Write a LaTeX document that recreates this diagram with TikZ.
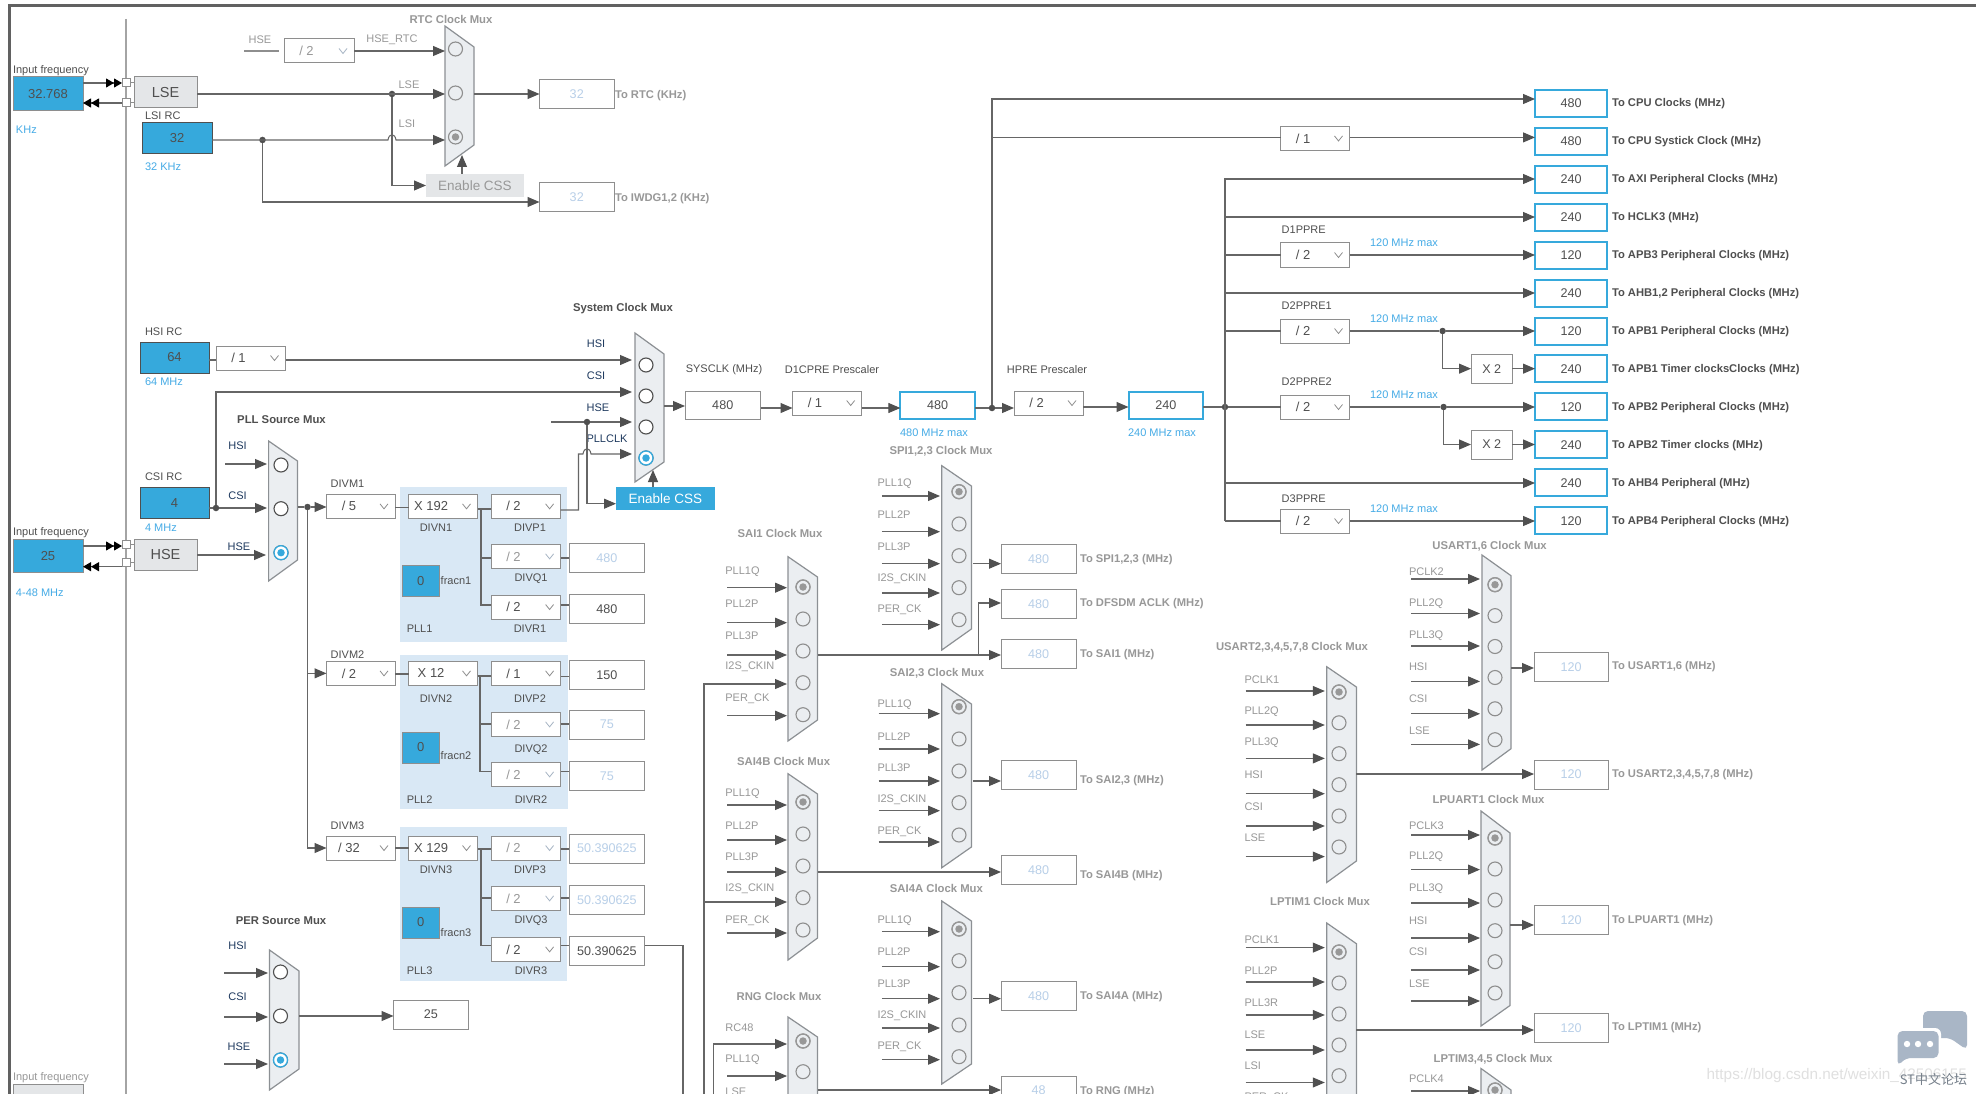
\documentclass[tikz,border=0pt]{standalone}
\usepackage{fontspec}
\setmainfont{Liberation Sans}
\newfontfamily\cjkf{Noto Sans CJK SC}
\usetikzlibrary{arrows.meta,calc}
\definecolor{blueF}{HTML}{36A9DC}
\definecolor{blueT}{HTML}{45ABE6}
\definecolor{ink}{HTML}{4F4F4F}
\definecolor{wire}{HTML}{666666}
\definecolor{tipc}{HTML}{505050}
\definecolor{grayT}{HTML}{989898}
\definecolor{frameC}{HTML}{8E8E8E}
\definecolor{muxF}{HTML}{EBEEF1}
\definecolor{muxB}{HTML}{8C9094}
\definecolor{offF}{HTML}{E4E6E8}
\definecolor{offV}{HTML}{B8CFE8}
\definecolor{pllF}{HTML}{D9E8F5}
\definecolor{navy}{HTML}{1F3A5F}
\definecolor{wmB}{HTML}{A9B6C6}
\tikzset{
  every node/.append style={inner sep=0pt,outer sep=0pt},
  wr/.style={draw=wire,line width=1.05pt},
  arr/.style={wr,-{Triangle[length=12pt,width=10pt,color=tipc]}},
  jdot/.style={circle,fill=ink,minimum size=6.5pt},
  t11/.style={font=\fontsize{11}{13}\selectfont,yshift=-1.3pt},
  lab/.style={t11,text=ink},
  labg/.style={t11,text=grayT},
  labn/.style={t11,text=navy},
  labb/.style={t11,text=blueT},
  ttl/.style={font=\fontsize{11.3}{13}\bfseries\selectfont,text=ink,yshift=-1.3pt},
  ttlg/.style={font=\fontsize{11.3}{13}\bfseries\selectfont,text=grayT,yshift=-1.3pt},
  tolab/.style={font=\fontsize{11.2}{13}\bfseries\selectfont,text=ink,anchor=west,yshift=-1.8pt},
  tolabg/.style={font=\fontsize{11.2}{13}\bfseries\selectfont,text=grayT,anchor=west,yshift=-1.8pt},
  valbox/.style={draw=frameC,line width=1pt,fill=white,font=\fontsize{12.6}{14}\selectfont,text=ink},
  valoff/.style={valbox,text=offV},
  outbox/.style={draw=blueF,line width=2pt,fill=white,font=\fontsize{12.6}{14}\selectfont,text=ink},
  bluebox/.style={draw=ink,line width=1pt,fill=blueF,font=\fontsize{13}{15}\selectfont,text=ink},
  blueflat/.style={draw=frameC,line width=1pt,fill=blueF,font=\fontsize{13}{15}\selectfont,text=ink},
  oscbox/.style={draw=frameC,line width=1pt,fill=offF,font=\fontsize{14.5}{16}\selectfont,text=ink},
  cssoff/.style={fill=offF,font=\fontsize{13.5}{15}\selectfont,text=grayT},
  csson/.style={fill=blueF,font=\fontsize{13.5}{15}\selectfont,text=white},
  ddframe/.style={draw=frameC,line width=1pt,fill=white},
  ddtext/.style={font=\fontsize{13}{15}\selectfont},
  pin/.style={draw=frameC,line width=1pt,fill=white,minimum width=8pt,minimum height=8pt},
  muxshape/.style={draw=muxB,line width=1.2pt,fill=muxF},
}
% \rbx{style}{name}{x1}{y1}{x2}{y2}{text}
\newcommand\rbx[7]{\node[#1,minimum width={(#5-#3)*1pt},minimum height={(#6-#4)*1pt}] (#2) at ({(#3+#5)/2},{(#4+#6)/2}) {#7};}
% \ddb{text colour}{chevron colour}{name}{x1}{y1}{x2}{y2}{text}
\newcommand\ddb[8]{\rbx{ddframe}{#3}{#4}{#5}{#6}{#7}{}%
  \node[ddtext,text=#1] (#3-t) at ([xshift=22.5pt]#3.west) {#8};%
  \draw[#2,line width=.8pt] ([xshift=-15pt,yshift=2.5pt]#3.east) -- ++(4,5) -- ++(4,-5);}
\newcommand\ddon[6]{\ddb{ink}{frameC}{#1}{#2}{#3}{#4}{#5}{#6}}
\newcommand\ddoff[6]{\ddb{grayT}{offV!60!frameC}{#1}{#2}{#3}{#4}{#5}{#6}}
% \muxb{name}{x1}{x2}{ytop}{yrtop}{yrbot}{ybot}
\newcommand\muxb[7]{\draw[muxshape] (#2,#4) -- (#3,#5) -- (#3,#6) -- (#2,#7) -- cycle;%
  \coordinate (#1-w) at (#2,#5);\coordinate (#1-e) at (#3,#5);}
\newcommand\setmux[4]{\def\mring{#1}\def\mdot{#2}\def\mlab{#3}\def\mfill{#4}}
% \ports{name}{labelx}{circlex}{srcx}{tipx}{selected}{Label/labely/circley/arrowy,...}
\newcommand\ports[7]{\foreach \La/\Ly/\Cy/\Ay [count=\i] in {#7}{%
  \node[t11,text=\mlab,anchor=west] (#1-l\i) at (#2,\Ly) {\La};
  \node[circle,draw=\mring,line width=1.1pt,fill=\mfill,minimum size=14pt] (#1-c\i) at (#3,\Cy) {};
  \ifnum\i=#6 \node[circle,fill=\mdot,minimum size=7.5pt] (#1-d\i) at (#3,\Cy) {};
    \draw[\mdot,line width=1.3pt] (#1-c\i) circle (7pt);\fi
  \coordinate (#1-s\i) at (#4,\Ay);\coordinate (#1-t\i) at (#5,\Ay);
  \draw[arr] (#1-s\i) -- (#1-t\i);}}
\begin{document}
\begin{tikzpicture}[x=1pt,y=-1pt]
\clip (0,0) rectangle (1976,1094);
\fill[white] (0,0) rectangle (1976,1094);
% frame
\coordinate (fa) at (9,1094);\coordinate (fb) at (9,6);\coordinate (fc) at (1976,6);
\draw[ink!90!white,line width=3pt] (fa) -- (fb) -- (fc);
\coordinate (va) at (126,19);\coordinate (vb) at (126,1094);
\draw[frameC!80!white,line width=1.5pt] (va) -- (vb);
% ---------- LSE / LSI
\node[lab,anchor=west] (ifl1) at (13,69.5) {Input frequency};
\rbx{blueflat}{f1}{13}{77}{83}{111}{32.768}
\node[labb,anchor=west] (khz) at (16,128) {KHz};
\rbx{pin}{p1}{122}{79}{130}{87}{}
\rbx{pin}{p2}{122}{99}{130}{107}{}
\rbx{oscbox}{lse}{134}{77}{197}{108}{LSE}
\draw[wr,-{Triangle[length=8pt,width=9pt,color=black]Triangle[length=8pt,width=9pt,color=black]}] (f1.east |- 0,83) -- (p1.west |- 0,83);
\draw[wr,-{Triangle[length=8pt,width=9pt,color=black]Triangle[length=8pt,width=9pt,color=black]}] (p2.west |- 0,103) -- (f1.east |- 0,103);
\draw[frameC,line width=1pt] (p1.east) -- (lse.west |- p1.east);
\draw[frameC,line width=1pt] (p2.east) -- (lse.west |- p2.east);
\node[lab,anchor=west] (lsil) at (145,114) {LSI RC};
\rbx{bluebox}{lsi}{142}{123}{212}{154}{32}
\node[labb,anchor=west] (lsik) at (145,165) {32 KHz};
\node[ttlg] (rtct) at (451,18) {RTC Clock Mux};
\muxb{rtc}{445}{474}{26}{47}{145}{166}
\setmux{frameC}{grayT}{grayT}{muxF}
\foreach \n/\y in {1/49,2/93,3/137}{\node[circle,draw=frameC,line width=1.1pt,fill=muxF,minimum size=14pt] (rtc-c\n) at (455.5,\y) {};}
\node[circle,fill=grayT,minimum size=7.5pt] (rtc-d) at (rtc-c3) {};
\node[labg] (hsel) at (260,38) {HSE};
\coordinate (hses) at (244,51);\coordinate (hsee) at (279,51);
\draw[frameC,line width=1.2pt] (hses) -- (hsee);
\ddoff{d2}{284}{39}{354}{63}{/ 2}
\node[labg] (hrtc) at (392,38) {HSE\_RTC};
\draw[arr] (d2.east |- 0,51) -- (rtc-w |- 0,51);
\node[labg] (lsel) at (409,83) {LSE};
\node[labg] (lsil2) at (407,122) {LSI};
\node[jdot] (j1) at (392,94) {};
\node[jdot] (j2) at (262.5,140) {};
\rbx{cssoff}{css1}{426}{174}{524}{197}{Enable CSS}
\rbx{valoff}{v32a}{539.5}{80}{614}{109}{32}
\rbx{valoff}{v32b}{539.5}{183}{614}{212}{32}
\node[tolabg] (tortc) at (615,94) {To RTC (KHz)};
\node[tolabg] (toiw) at (615,197) {To IWDG1,2 (KHz)};
\draw[arr] (lse.east |- 0,94) -- (rtc-w |- 0,94);
\draw[arr] (rtc-e |- 0,94) -- (v32a.west |- 0,94);
\coordinate (h1a) at (388,140);\coordinate (h1b) at (396,140);
\draw[arr] (lsi.east |- 0,140) -- (h1a) .. controls (389,133) and (395,133) .. (h1b) -- (rtc-w |- 0,140);
\draw[arr] (j1) |- (css1.west);
\draw[arr] (j2) |- (v32b.west |- 0,202);
\draw[arr] (css1.north -| 462,0) -- (462,155);
% ---------- HSI / CSI / HSE
\node[lab,anchor=west] (hsil) at (145,330) {HSI RC};
\rbx{bluebox}{hsi}{140}{342}{209}{373}{64}
\node[labb,anchor=west] (hsim) at (145,380) {64 MHz};
\ddon{d3}{216}{346}{285.5}{370}{/ 1}
\node[ttl] (syst) at (623,307) {System Clock Mux};
\node[labn] (shsi) at (596,342) {HSI};
\node[labn] (scsi) at (596,374) {CSI};
\node[labn] (shse) at (598,406) {HSE};
\node[labn] (spll) at (607,437) {PLLCLK};
\muxb{sys}{635}{664}{333}{354}{462}{482}
\foreach \n/\y in {1/365,2/396,3/427,4/458}{\node[circle,draw=ink,line width=1.1pt,fill=white,minimum size=14pt] (sys-c\n) at (646,\y) {};}
\draw[blueF,line width=1.3pt,fill=white] (sys-c4) circle (7pt);
\node[circle,fill=blueF,minimum size=7.5pt] (sys-d) at (sys-c4) {};
\rbx{csson}{css2}{616}{487}{714.6}{510}{Enable CSS}
\draw[wr] (hsi.east |- 0,360) -- (d3.west |- 0,360);
\coordinate (sysin) at (632,360);
\draw[arr] (d3.east |- 0,360) -- (sysin);
\draw[arr] (css2.north -| 653,0) -- (653,470);
% PLL source mux
\node[lab,anchor=west] (csil) at (145,475) {CSI RC};
\rbx{bluebox}{csi}{140}{487}{209}{518.7}{4}
\node[labb,anchor=west] (csim) at (145,526) {4 MHz};
\node[lab,anchor=west] (ifl2) at (13,531.7) {Input frequency};
\rbx{blueflat}{f2}{13}{539}{83}{572.7}{25}
\node[labb,anchor=west] (f2m) at (16,591) {4-48 MHz};
\rbx{pin}{p3}{122}{540}{130}{548}{}
\rbx{pin}{p4}{122}{558.7}{130}{566.7}{}
\rbx{oscbox}{hse}{134}{539}{197}{570.7}{HSE}
\draw[wr,-{Triangle[length=8pt,width=9pt,color=black]Triangle[length=8pt,width=9pt,color=black]}] (f2.east |- 0,546) -- (p3.west |- 0,546);
\draw[wr,-{Triangle[length=8pt,width=9pt,color=black]Triangle[length=8pt,width=9pt,color=black]}] (p4.west |- 0,566.7) -- (f2.east |- 0,566.7);
\draw[frameC,line width=1pt] (p3.east) -- (hse.west |- p3.east);
\draw[frameC,line width=1pt] (p4.east) -- (hse.west |- p4.east);
\node[ttl] (pllt) at (281.5,418) {PLL Source Mux};
\node[labn] (phsi) at (237.5,444) {HSI};
\node[labn] (pcsi) at (237.5,494) {CSI};
\node[labn] (phse) at (239,545) {HSE};
\muxb{psrc}{268.6}{297.5}{441}{461}{560}{581}
\foreach \n/\y in {1/465,2/508.7,3/552.7}{\node[circle,draw=ink,line width=1.1pt,fill=white,minimum size=14pt] (psrc-c\n) at (281,\y) {};}
\draw[blueF,line width=1.3pt,fill=white] (psrc-c3) circle (7pt);
\node[circle,fill=blueF,minimum size=7.5pt] (psrc-d) at (psrc-c3) {};
\coordinate (phs) at (225,464);\coordinate (pht) at (267,464);
\draw[arr] (phs) -- (pht);
\node[jdot] (j3) at (216,508) {};
\draw[wr] (csi.east |- j3) -- (j3);
\draw[arr] (j3) -- (267,508);
\coordinate (cs1) at (216,392);\coordinate (cs2) at (632,392);
\draw[arr] (j3) -- (cs1) -- (cs2);
\draw[arr] (hse.east |- 0,555) -- (266,555);
% PLL panels
\rbx{fill=pllF}{pll1}{400}{487}{567}{641.7}{}
\rbx{fill=pllF}{pll2}{400}{654.7}{568}{809}{}
\rbx{fill=pllF}{pll3}{400}{826.7}{567}{981}{}
\node[jdot] (j4) at (307.5,507) {};
\foreach \n/\y/\ya/\yb/\mul/\yl/\ex in {1/482/494.7/518/{/ 5}/526/1,2/653/661.7/685/{/ 2}/697/1,3/824/836/860/{/ 32}/868/1}{
  \node[lab] (divm\n) at (347.5,\y) {DIVM\n};
  \ddon{dm\n}{326.5}{\ya}{395}{\yb}{\mul}
  \node[lab] (divnl\n) at (436,\yl) {DIVN\n};
}
\ddon{dn1}{408.6}{494.7}{477.5}{518}{X 192}
\ddon{dn2}{408.6}{661.7}{477.5}{685}{X 12}
\ddon{dn3}{408.6}{836}{477.5}{860}{X 129}
\draw[wr] (psrc-e |- j4) -- (j4);
\draw[arr] (j4) -- (dm1.west |- j4);
\draw[arr] (j4) |- (dm2.west);
\draw[arr] (j4) |- (dm3.west);
% PLL dividers
\ddon{dp1}{491}{494.7}{560.6}{518}{/ 2}
\ddoff{dq1}{491}{544.7}{560.6}{568}{/ 2}
\ddon{dr1}{491}{595}{560.6}{619}{/ 2}
\ddon{dp2}{491}{661.7}{560.6}{685}{/ 1}
\ddoff{dq2}{491}{712.7}{560.6}{736}{/ 2}
\ddoff{dr2}{491}{762.7}{560.6}{786}{/ 2}
\ddoff{dp3}{491}{836}{560.6}{860}{/ 2}
\ddoff{dq3}{491}{886.7}{560.6}{910}{/ 2}
\ddon{dr3}{491}{937.7}{560.6}{961}{/ 2}
\foreach \nm/\x/\y in {DIVP1/530/526,DIVQ1/531/577,DIVR1/530/627,DIVP2/530/697,DIVQ2/531/748,DIVR2/531/798,DIVP3/530/868,DIVQ3/531/919,DIVR3/531/969}{\node[lab] (l\nm) at (\x,\y) {\nm};}
\foreach \n/\y in {1/627,2/798,3/969}{\node[lab] (lpll\n) at (419.6,\y) {PLL\n};}
\foreach \n/\ya/\yb/\yc in {1/565/596.7/579,2/732/763/754,3/907/938/931}{
 \rbx{blueflat}{fr\n}{402}{\ya}{439.4}{\yb}{0}
 \node[lab] (frl\n) at (456,\yc) {fracn\n};}
\rbx{valoff}{vq1}{569}{543.7}{644.6}{572.7}{480}
\rbx{valbox}{vr1}{569}{594.7}{644.6}{623}{480}
\rbx{valbox}{vp2}{569}{660.7}{644.6}{689}{150}
\rbx{valoff}{vq2}{569}{710}{644.6}{739}{75}
\rbx{valoff}{vr2}{569}{761.7}{644.6}{790}{75}
\rbx{valoff}{vp3}{569}{834}{644.6}{863}{50.390625}
\rbx{valoff}{vq3}{569}{885.7}{644.6}{914}{50.390625}
\rbx{valbox}{vr3}{569}{936.7}{644.6}{965}{50.390625}
% stubs
\draw[wr] (dm1.east |- 0,507.7) -- (dn1.west |- 0,507.7);
\draw[wr] (dm2.east |- 0,674) -- (dn2.west |- 0,674);
\draw[wr] (dm3.east |- 0,848) -- (dn3.west |- 0,848);
\draw[wr] (dn1.east |- 0,509) -- (dp1.west |- 0,509);
\coordinate (b1a) at (481,509);\coordinate (b1b) at (481,605);
\draw[wr] (b1a) -- (b1b) -- (dr1.west |- b1b);
\draw[wr] (481,558) -- (dq1.west |- 0,558);
\draw[wr] (dq1.east |- 0,558) -- (vq1.west |- 0,558);
\draw[wr] (dr1.east |- 0,605) -- (vr1.west |- 0,605);
\draw[wr] (dn2.east |- 0,676) -- (dp2.west |- 0,676);
\coordinate (b2a) at (480,676);\coordinate (b2b) at (480,771.7);
\draw[wr] (b2a) -- (b2b) -- (dr2.west |- b2b);
\draw[wr] (480,724) -- (dq2.west |- 0,724);
\draw[wr] (dp2.east |- 0,676.7) -- (vp2.west |- 0,676.7);
\draw[wr] (dq2.east |- 0,724) -- (vq2.west |- 0,724);
\draw[wr] (dr2.east |- 0,771.7) -- (vr2.west |- 0,771.7);
\draw[wr] (dn3.east |- 0,849) -- (dp3.west |- 0,849);
\coordinate (b3a) at (481,849);\coordinate (b3b) at (481,945.7);
\draw[wr] (b3a) -- (b3b) -- (dr3.west |- b3b);
\draw[wr] (481,898) -- (dq3.west |- 0,898);
\draw[wr] (dp3.east |- 0,849) -- (vp3.west |- 0,849);
\draw[wr] (dq3.east |- 0,898) -- (vq3.west |- 0,898);
\draw[wr] (dr3.east |- 0,945.7) -- (vr3.west |- 0,945.7);
% rest of system mux inputs
\coordinate (hs1) at (551,422);\node[jdot] (j5) at (587,422) {};
\draw[wr] (hs1) -- (j5);
\draw[arr] (j5) -- (632,422);
\draw[arr] (j5) |- (css2.west |- 0,503.7);
\coordinate (pl1) at (578.5,510);\coordinate (pl2) at (578.5,454);\coordinate (pl3) at (583,454);\coordinate (pl4) at (591,454);
\draw[arr] (dp1.east |- pl1) -- (pl1) -- (pl2) -- (pl3) .. controls (584,447) and (590,447) .. (pl4) -- (632,454);
% SYSCLK chain
\node[lab] (sysl) at (724,368) {SYSCLK (MHz)};
\rbx{valbox}{sclk}{685}{391}{760.5}{419}{480}
\node[lab] (d1cl) at (832,368) {D1CPRE Prescaler};
\ddon{d1c}{792.5}{391}{861.7}{415}{/ 1}
\rbx{outbox}{b480}{900.4}{391.5}{975}{418.5}{480}
\node[labb] (m480) at (934,431) {480 MHz max};
\node[jdot] (j6) at (992,408) {};
\node[lab] (hprl) at (1047,368) {HPRE Prescaler};
\ddon{hpr}{1014}{391}{1083}{415}{/ 2}
\rbx{outbox}{b240}{1128.5}{391.5}{1203}{418.5}{240}
\node[labb] (m240) at (1162,431) {240 MHz max};
\node[jdot] (j7) at (1225,407) {};
\draw[arr] (sys-e |- 0,406) -- (sclk.west |- 0,406);
\draw[arr] (sclk.east |- 0,408) -- (d1c.west |- 0,408);
\draw[arr] (d1c.east |- 0,408) -- (b480.west |- 0,408);
\draw[wr] (b480.east |- j6) -- (j6);
\draw[arr] (j6) -- (hpr.west |- j6);
\draw[arr] (hpr.east |- 0,407) -- (b240.west |- 0,407);
\draw[wr] (b240.east |- j7) -- (j7);
% right column
\foreach \n/\v/\t [count=\k from 0] in {cpu/480/To CPU Clocks (MHz),sys/480/To CPU Systick Clock (MHz),axi/240/To AXI Peripheral Clocks (MHz),hcl/240/To HCLK3 (MHz),ap3/120/To APB3 Peripheral Clocks (MHz),ahb/240/{To AHB1,2 Peripheral Clocks (MHz)},ap1/120/To APB1 Peripheral Clocks (MHz),tm1/240/To APB1 Timer clocksClocks (MHz),ap2/120/To APB2 Peripheral Clocks (MHz),tm2/240/To APB2 Timer clocks (MHz),ah4/240/To AHB4 Peripheral (MHz),ap4/120/To APB4 Peripheral Clocks (MHz)}{
  \pgfmathsetmacro\cy{103.3+37.95*\k}
  \node[outbox,minimum width=72pt,minimum height=27pt] (o\n) at (1571,\cy) {\v};
  \node[tolab] (ol\n) at (1612,\cy-1) {\t};
}
\draw[arr] (j6) -- (992,99) -- (ocpu.west |- 0,99);
\ddon{sy1}{1280.7}{126.4}{1349.5}{150.5}{/ 1}
\draw[wr] (992,137.4) -- (sy1.west |- 0,137.4);
\draw[arr] (sy1.east |- 0,137.4) -- (osys.west |- 0,137.4);
\ddon{dd1}{1280.7}{243}{1349.5}{267}{/ 2}
\ddon{dd2}{1280.7}{319}{1349.5}{343}{/ 2}
\ddon{dd3}{1280.7}{395}{1349.5}{419}{/ 2}
\ddon{dd4}{1280.7}{509}{1349.5}{533}{/ 2}
\foreach \nm/\y in {D1PPRE/228,D2PPRE1/304,D2PPRE2/380,D3PPRE/497}{\node[lab,anchor=west] (l\nm) at (1281.7,\y) {\nm};}
\foreach \y [count=\k] in {241,317,393,507}{\node[labb] (mx\k) at (1404,\y) {120 MHz max};}
\coordinate (tr1) at (1225,179);\coordinate (tr2) at (1225,521);
\draw[arr] (tr2) -- (tr1) -- (oaxi.west |- tr1);
\draw[arr] (j7 |- 0,217) -- (ohcl.west |- 0,217);
\draw[arr] (j7 |- 0,293) -- (oahb.west |- 0,293);
\draw[arr] (j7 |- 0,483) -- (oah4.west |- 0,483);
\draw[wr] (j7 |- 0,255) -- (dd1.west |- 0,255);
\draw[wr] (j7 |- 0,331) -- (dd2.west |- 0,331);
\draw[wr] (j7) -- (dd3.west |- j7);
\draw[wr] (tr2) -- (dd4.west |- tr2);
\draw[arr] (dd1.east |- 0,255) -- (oap3.west |- 0,255);
\draw[arr] (dd4.east |- 0,521) -- (oap4.west |- 0,521);
\node[jdot] (j8) at (1442.6,331) {};
\node[jdot] (j9) at (1443.6,407) {};
\rbx{valbox}{x1}{1471}{354}{1512.4}{383.3}{X 2}
\rbx{valbox}{x2}{1471}{430}{1512.4}{459}{X 2}
\draw[wr] (dd2.east |- j8) -- (j8);
\draw[arr] (j8) -- (oap1.west |- j8);
\draw[wr] (dd3.east |- j9) -- (j9);
\draw[arr] (j9) -- (oap2.west |- j9);
\draw[arr] (j8) |- (x1.west);
\draw[arr] (j9) |- (x2.west);
\draw[arr] (x1.east) -- (otm1.west |- x1.east);
\draw[arr] (x2.east) -- (otm2.west |- x2.east);
% ---------- per source
\node[ttl] (pert) at (281,919) {PER Source Mux};
\node[labn] (qhsi) at (237.5,944) {HSI};
\node[labn] (qcsi) at (237.5,995) {CSI};
\node[labn] (qhse) at (239,1045) {HSE};
\muxb{per}{269.5}{299}{950}{971}{1069}{1090}
\foreach \n/\y in {1/972,2/1016,3/1060}{\node[circle,draw=ink,line width=1.1pt,fill=white,minimum size=14pt] (per-c\n) at (280.5,\y) {};}
\draw[blueF,line width=1.3pt,fill=white] (per-c3) circle (7pt);
\node[circle,fill=blueF,minimum size=7.5pt] (per-d) at (per-c3) {};
\foreach \n/\y in {1/973,2/1017,3/1064}{\coordinate (qs\n) at (224,\y);\coordinate (qt\n) at (268,\y);\draw[arr] (qs\n) -- (qt\n);}
\rbx{valbox}{vper}{393.5}{1000}{468.3}{1029}{25}
\draw[arr] (per-e |- 0,1016) -- (vper.west |- 0,1016);
\node[labg,anchor=west] (ifl3) at (13,1076) {Input frequency};
\rbx{draw=frameC,line width=1pt,fill=offF}{f3}{13}{1084}{83}{1120}{}
% ---------- peripheral muxes (disabled)
\setmux{frameC}{grayT}{grayT}{muxF}
\node[ttlg] (spit) at (941,450) {SPI1,2,3 Clock Mux};
\muxb{spi}{941.8}{971.4}{465.7}{486}{629}{650}
\ports{spi}{877.5}{959}{881.8}{940}{1}{PLL1Q/482/491.7/496,PLL2P/513/524/531.7,PLL3P/545/555.7/563.7,I2S\_CKIN/577/587.7/593,PER\_CK/608/619.7/624.7}
\rbx{valoff}{vspi}{1001}{544.3}{1076.4}{573.7}{480}
\node[tolabg] (tspi) at (1080,558) {To SPI1,2,3 (MHz)};
\draw[arr] (973,563.7) -- (vspi.west |- 0,563.7);
\rbx{valoff}{vdfs}{1001}{589.3}{1076.4}{618.3}{480}
\node[tolabg] (tdfs) at (1080,602) {To DFSDM ACLK (MHz)};
\rbx{valoff}{vsa1}{1001}{639.3}{1076.4}{668.3}{480}
\node[tolabg] (tsa1) at (1080,653) {To SAI1 (MHz)};
\node[ttlg] (sa1t) at (780,532) {SAI1 Clock Mux};
\muxb{sa1}{788}{817.5}{556.7}{577}{720}{741}
\ports{sa1}{725.4}{803}{727}{787}{1}{PLL1Q/570/587/587.7,PLL2P/602/619/622.7,PLL3P/634/651/655,I2S\_CKIN/665/682.7/684,PER\_CK/697/714.7/715.7}
\draw[arr] (sa1-e |- 0,655) -- (vsa1.west |- 0,655);
\coordinate (dfb) at (978.6,655);\coordinate (dfc) at (978.6,603);
\draw[arr] (dfb) -- (dfc) -- (vdfs.west |- dfc);
\node[ttlg] (sa2t) at (937,672) {SAI2,3 Clock Mux};
\muxb{sa2}{941.8}{971.4}{683.7}{704}{847}{867.7}
\ports{sa2}{877.5}{959}{878.6}{940}{1}{PLL1Q/703/706.7/713.7,PLL2P/735/739/749,PLL3P/766.7/771/781,I2S\_CKIN/798/802.7/810.7,PER\_CK/830/835/842}
\rbx{valoff}{vsa2}{1001}{760.3}{1076.4}{789.3}{480}
\node[tolabg] (tsa2) at (1080,779) {To SAI2,3 (MHz)};
\draw[arr] (973,781) -- (vsa2.west |- 0,781);
\node[ttlg] (s4bt) at (783.6,760) {SAI4B Clock Mux};
\muxb{s4b}{788}{817.5}{773.7}{794}{938}{960}
\ports{s4b}{725.4}{803}{727}{787}{1}{PLL1Q/792/802/805,PLL2P/824/834/840,PLL3P/855/866/872,I2S\_CKIN/887/897.7/902,PER\_CK/919/930/933}
\rbx{valoff}{vs4b}{1001}{855.3}{1076.4}{884.7}{480}
\node[tolabg] (ts4b) at (1080,874) {To SAI4B (MHz)};
\draw[arr] (s4b-e |- 0,872) -- (vs4b.west |- 0,872);
\node[ttlg] (s4at) at (936.4,887) {SAI4A Clock Mux};
\muxb{s4a}{941.8}{971.4}{901}{921}{1064}{1084}
\ports{s4a}{877.5}{959}{881.8}{940}{1}{PLL1Q/919/929/931.7,PLL2P/950/960.7/966.7,PLL3P/982/992.7/998.7,I2S\_CKIN/1014/1025/1028,PER\_CK/1045/1056.7/1059.7}
\rbx{valoff}{vs4a}{1001}{981.3}{1076.4}{1010.3}{480}
\node[tolabg] (ts4a) at (1080,995) {To SAI4A (MHz)};
\draw[arr] (973,998.7) -- (vs4a.west |- 0,998.7);
\node[ttlg] (rngt) at (779,995) {RNG Clock Mux};
\muxb{rng}{788}{817.5}{1017}{1037}{1180}{1200}
\ports{rng}{725.4}{803}{727}{787}{1}{RC48/1026/1041/1044,PLL1Q/1058/1071.7/1076}
\node[t11,text=grayT,anchor=west] (rngl) at (725.4,1090) {LSE};
\rbx{valoff}{vrng}{1001}{1076}{1076.4}{1105}{48}
\node[tolabg] (trng) at (1080,1090) {To RNG (MHz)};
\draw[arr] (rng-e |- 0,1090) -- (vrng.west |- 0,1090);
% PLL3R and PLL3Q feeder wires
\coordinate (r1) at (683,945.7);\coordinate (r2) at (683,1094);
\draw[wr] (vr3.east |- r1) -- (r1) -- (r2);
\coordinate (i1) at (704,684);\coordinate (i2) at (704,1094);\coordinate (i3) at (704,902);
\draw[wr] (i2) -- (i1) -- (sa1-s4);
\draw[wr] (i3) -- (s4b-s4);
\coordinate (k1) at (713.6,1044);\coordinate (k2) at (713.6,1094);
\draw[wr] (k2) -- (k1) -- (rng-s1);
% USART / LPUART / LPTIM
\node[ttlg] (ua1t) at (1489.6,545) {USART1,6 Clock Mux};
\muxb{ua1}{1482}{1511}{555}{575.7}{748.7}{770}
\ports{ua1}{1409}{1495}{1411}{1480}{1}{PCLK2/570/584.7/579,PLL2Q/602/615.6/613.5,PLL3Q/634/646.5/646,HSI/665/677.5/681.4,CSI/697/708.8/713.8,LSE/729/739.7/744.4}
\rbx{valoff}{vua1}{1534}{652.3}{1608}{681.4}{120}
\node[tolabg] (tua1) at (1612,665) {To USART1,6 (MHz)};
\draw[arr] (ua1-e |- 0,668) -- (vua1.west |- 0,668);
\node[ttlg] (ua2t) at (1292,646) {USART2,3,4,5,7,8 Clock Mux};
\muxb{ua2}{1326.7}{1356.4}{666.7}{687}{861}{882.5}
\ports{ua2}{1244.5}{1339}{1245.5}{1324.8}{1}{PCLK1/678/692/691,PLL2Q/710/722.8/725,PLL3Q/741/753.7/758.4,HSI/773/784.7/793.7,CSI/805/816/826,LSE/836.5/847/856.6}
\rbx{valoff}{vua2}{1534}{760}{1608}{789}{120}
\node[tolabg] (tua2) at (1612,773) {To USART2,3,4,5,7,8 (MHz)};
\draw[arr] (ua2-e |- 0,774) -- (vua2.west |- 0,774);
\node[ttlg] (lput) at (1488.6,798) {LPUART1 Clock Mux};
\muxb{lpu}{1481}{1510}{811}{833}{1005.5}{1026}
\ports{lpu}{1409}{1495}{1411}{1480}{1}{PCLK3/824/838/835,PLL2Q/855/869/869.6,PLL3Q/887/900/903,HSI/919/930.7/938,CSI/950/961.7/970,LSE/982/993/1001}
\rbx{valoff}{vlpu}{1534}{905.5}{1608}{934.7}{120}
\node[tolabg] (tlpu) at (1612,919) {To LPUART1 (MHz)};
\draw[arr] (lpu-e |- 0,925) -- (vlpu.west |- 0,925);
\node[ttlg] (lptt) at (1320,900) {LPTIM1 Clock Mux};
\muxb{lpt}{1326.7}{1356.4}{923}{943.7}{1150}{1170}
\ports{lpt}{1244.5}{1339}{1245.5}{1324.8}{1}{PCLK1/938/952/947.6,PLL2P/969/983/982,PLL3R/1001/1014/1015,LSE/1033/1045/1050,LSI/1064/1075.7/1082.5}
\node[t11,text=grayT,anchor=west] (lptl) at (1244.5,1096) {PER\_CK};
\rbx{valoff}{vlpt}{1534}{1013.8}{1608}{1042.6}{120}
\node[tolabg] (tlpt) at (1612,1026) {To LPTIM1 (MHz)};
\draw[arr] (lpt-e |- 0,1030) -- (vlpt.west |- 0,1030);
\node[ttlg] (lp3t) at (1493,1058) {LPTIM3,4,5 Clock Mux};
\muxb{lp3}{1481}{1511}{1068.5}{1090}{1250}{1270}
\ports{lp3}{1409}{1495}{1411}{1480}{1}{PCLK4/1077.5/1090/1091}
% watermark
\node[font=\fontsize{15.3}{17}\selectfont,text=black!12,anchor=east] (wm1) at (1967,1076) {https://blog.csdn.net/weixin\_42506155};
\fill[wmB,rounded corners=5pt] (1923,1011) -- (1967,1011) -- (1967,1050) -- (1950,1038) -- (1923,1038) -- cycle;
\fill[white,rounded corners=6pt] (1895,1028) rectangle (1941,1061);
\fill[wmB,rounded corners=5pt] (1897.5,1031) -- (1938.5,1031) -- (1938.5,1058) -- (1906,1058) -- (1897.5,1066) -- cycle;
\foreach \x in {1907,1918,1930}{\fill[white] (\x,1044) circle (3.2pt);}
\node[font=\fontsize{13}{15}\cjkf\selectfont,text=wmB!70!black,anchor=east] (wm2) at (1967,1079) {ST中文论坛};
\end{tikzpicture}
\end{document}
